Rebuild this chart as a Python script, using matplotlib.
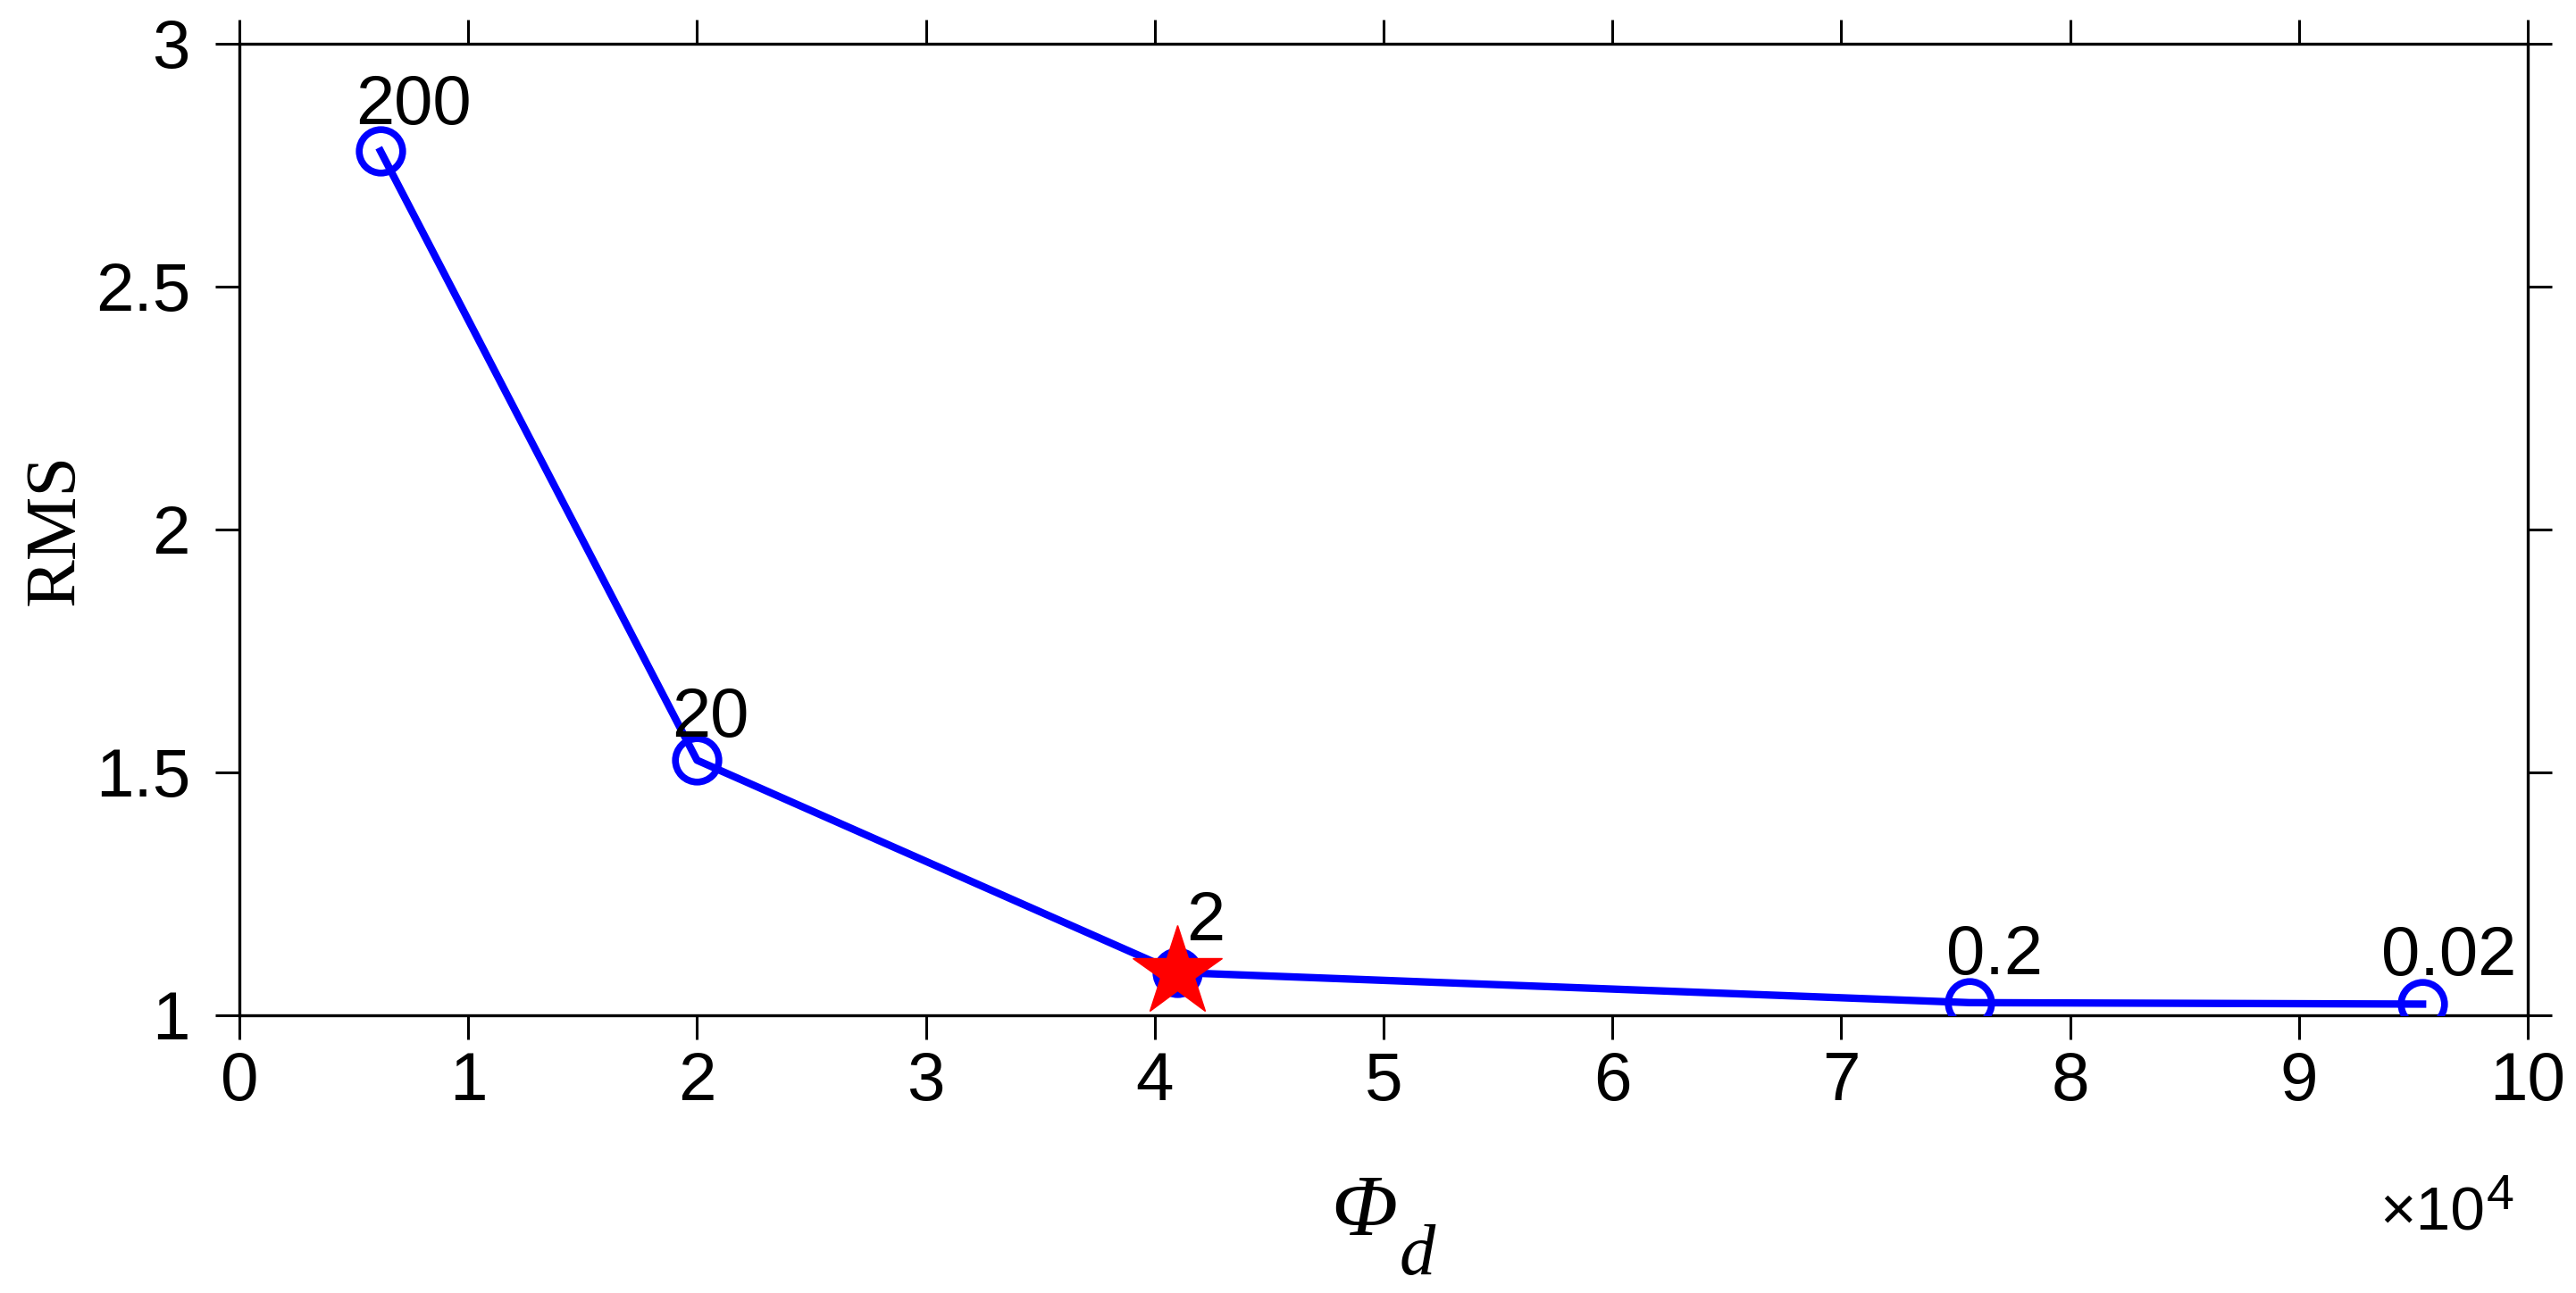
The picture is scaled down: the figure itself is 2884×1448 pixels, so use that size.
import matplotlib
matplotlib.use('Agg')
import matplotlib.pyplot as plt
from matplotlib.ticker import FuncFormatter

# data
phi_d = [6170, 20000, 41000, 75600, 95400]
rms = [2.779, 1.525, 1.088, 1.026, 1.023]
point_labels = ['200', '20', '2', '0.2', '0.02']
best_idx = 2

# label offsets (pixels at dpi 100): centre x shift, bottom above point
label_dx = [37, 15, 31, 28, 29]
label_dy = [30, 26, 36, 32, 32]

plt.rcParams['font.family'] = ['Liberation Sans', 'DejaVu Sans']

fig = plt.figure(figsize=(28.84, 14.48), dpi=100)
ax = fig.add_axes([0.0929, 0.2148, 0.9813 - 0.0929, 0.9662 - 0.2148])

ax.plot(phi_d, rms, '-o', color='blue', lw=6, ms=35, mew=5.5,
        mfc='none', mec='blue', zorder=3)
ax.plot(phi_d[best_idx], rms[best_idx], '*', color='red', ms=76,
        mec='red', mew=1, zorder=4)

for x, y, lab, dx, dy in zip(phi_d, rms, point_labels, label_dx, label_dy):
    ax.annotate(lab, (x, y), xytext=(dx * 0.72, dy * 0.72),
                textcoords='offset points', ha='center', va='baseline',
                fontsize=56, zorder=5)

ax.set_xlim(0, 100000)
ax.set_ylim(1, 3)
ax.set_xticks(range(0, 100001, 10000))
ax.set_yticks([1, 1.5, 2, 2.5, 3])
ax.xaxis.set_major_formatter(FuncFormatter(lambda v, p: '%d' % round(v / 1e4)))
ax.yaxis.set_major_formatter(FuncFormatter(lambda v, p: ('%g' % v)))

ax.tick_params(axis='both', which='both', direction='out', length=19.5,
               width=2.2, labelsize=55, top=True, right=True,
               labeltop=False, labelright=False)
ax.tick_params(axis='x', pad=9)
ax.tick_params(axis='y', pad=20)
for s in ax.spines.values():
    s.set_linewidth(2.4)

ax.text(-0.080, 0.5, 'RMS', rotation=90, ha='center', va='center',
        transform=ax.transAxes, fontsize=58, family='Liberation Serif')
ax.text(0.506, -0.226, '\u03a6', ha='right', va='baseline',
        transform=ax.transAxes, fontsize=70, family='Liberation Serif',
        style='italic')
ax.text(0.507, -0.267, 'd', ha='left', va='baseline',
        transform=ax.transAxes, fontsize=58, family='Liberation Serif',
        style='italic')

# x10^4 multiplier under the right end of the axis
ax.text(0.9813, -0.2215, '\u00d710', ha='right', va='baseline',
        transform=ax.transAxes, fontsize=50)
ax.text(0.9818, -0.1994, '4', ha='left', va='baseline',
        transform=ax.transAxes, fontsize=40)

fig.savefig('out.png', dpi=100)
